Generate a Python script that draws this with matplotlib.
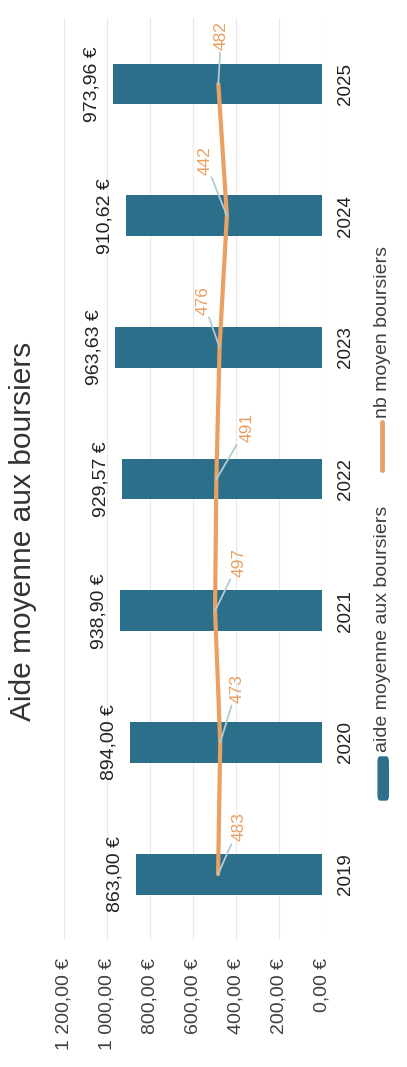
import matplotlib
matplotlib.use("Agg")
import matplotlib.pyplot as plt
from matplotlib.patches import FancyBboxPatch
from matplotlib.lines import Line2D

plt.rcParams['font.family'] = ['Liberation Sans', 'DejaVu Sans']

# donnees
annees = ['2019', '2020', '2021', '2022', '2023', '2024', '2025']
aide = [863.00, 894.00, 938.90, 929.57, 963.63, 910.62, 973.96]
nb_boursiers = [483, 473, 497, 491, 476, 442, 482]
graduations = [0, 200, 400, 600, 800, 1000, 1200]

bleu = '#2b6f8a'
orange = '#eaa062'
gris = '#404040'


def euro(v):
    s = f"{v:,.2f}".replace(",", " ").replace(".", ",")
    return s + " €"


fig = plt.figure(figsize=(4.07, 10.67), dpi=100)
ax = fig.add_axes([0.157, 0.119, 0.634, 0.864])

pos = list(range(len(annees)))
ax.barh(pos, aide, height=0.31, color=bleu, zorder=2)
ax.plot(nb_boursiers, pos, color=orange, lw=3, zorder=3, solid_capstyle='round')

# etiquettes des barres
for p, v in zip(pos, aide):
    ax.annotate(euro(v), (v, p), xytext=(-9, 0), textcoords='offset points',
                rotation=90, ha='right', va='center', fontsize=14, color='#222222')

# etiquettes de la courbe (decalages en points)
decal = [(15, 34), (12, 39), (17, 35), (22, 37), (-12, 34), (-16, 40), (2, 35)]
for p, n, d in zip(pos, nb_boursiers, decal):
    ax.annotate(str(n), (n, p), xytext=d, textcoords='offset points',
                rotation=90, ha='center', va='center', fontsize=12.5, color=orange,
                arrowprops=dict(arrowstyle='-', color='#b3cbd3', lw=1.3,
                                shrinkA=0, shrinkB=0),
                zorder=4)

ax.set_xlim(1200, 0)
ax.set_ylim(-0.5, len(annees) - 0.5)
ax.set_xticks(graduations)
ax.set_xticklabels([euro(g) for g in graduations], rotation=90, ha='center', va='top')
ax.set_yticks(pos)
ax.set_yticklabels(annees, rotation=90, va='center', ha='left')
ax.yaxis.tick_right()
ax.tick_params(axis='x', length=0, pad=13, labelsize=14, labelcolor=gris)
ax.tick_params(axis='y', length=0, pad=11, labelsize=13.5, labelcolor='#222222')
ax.grid(axis='x', color='#e8e8e8', lw=0.8, zorder=0)
for s in ax.spines.values():
    s.set_visible(False)

fig.text(0.057, 0.502, 'Aide moyenne aux boursiers', rotation=90, ha='center',
         va='center', fontsize=21.5, color='#333333')

# legende faite a la main (texte pivote)
fig.add_artist(FancyBboxPatch((0.929, 1 - 800 / 1067), 0.025, 43 / 1067,
                              boxstyle='round,pad=0,rounding_size=0.005',
                              transform=fig.transFigure, color=bleu))
fig.text(0.941, 1 - 752 / 1067, 'aide moyenne aux boursiers', rotation=90,
         ha='center', va='bottom', fontsize=14, color=gris)
fig.add_artist(Line2D([0.939, 0.939], [1 - 470 / 1067, 1 - 422 / 1067],
                      transform=fig.transFigure, color=orange, lw=3.5,
                      solid_capstyle='round'))
fig.text(0.941, 1 - 418 / 1067, 'nb moyen boursiers', rotation=90,
         ha='center', va='bottom', fontsize=14, color=gris)

fig.savefig('out.png', dpi=100)
